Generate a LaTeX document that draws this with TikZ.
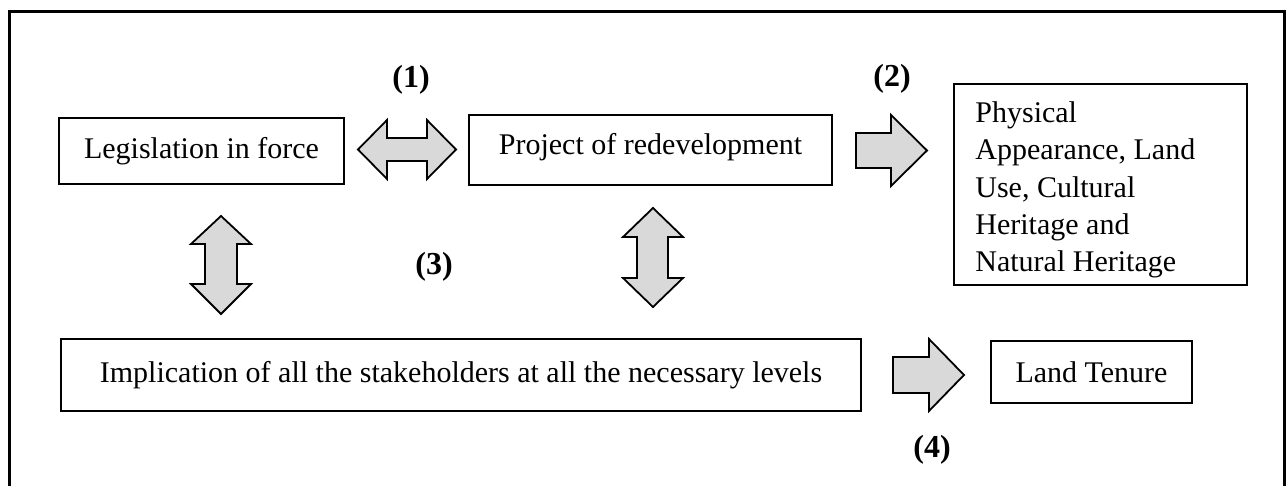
\documentclass[tikz,border=0pt]{standalone}
\usepackage{fontspec}
\setmainfont{Liberation Serif}
\begin{document}
\begin{tikzpicture}[x=0.5pt,y=-0.5pt,
  box/.style={draw, line width=0.9pt, inner sep=0pt, font=\fontsize{15}{18.6}\selectfont},
  blockarrow/.style={draw, line width=0.9pt, fill=gray!30, line join=miter},
  lbl/.style={font=\fontsize{16}{18}\selectfont\bfseries, inner sep=0pt},
  frame/.style={line width=1.5pt}]
\useasboundingbox (0,0) rectangle (1287,486);
% outer frame (bottom edge lies outside the picture)
\draw[frame] (9.5,500) -- (9.5,12) -- (1284.5,12) -- (1284.5,500);
% boxes
\node[box, minimum width=142.5pt, minimum height=33pt] (leg) at (201.5,151) {Legislation in force};
\node[box, minimum width=181.5pt, minimum height=35pt, text height=10.2pt, text depth=5.5pt] (proj) at (650.5,150) {Project of redevelopment};
\node[box, minimum width=146.5pt, minimum height=100.5pt] (phys) at (1100.5,184.5) {};
\node[font=\fontsize{15}{18.6}\selectfont, align=left, anchor=north west, inner sep=0pt] (phystext) at (975,101.5)
  {Physical\\Appearance, Land\\Use, Cultural\\Heritage and\\Natural Heritage};
\node[box, minimum width=400pt, minimum height=36pt] (impl) at (461,375) {Implication of all the stakeholders at all the necessary levels};
\node[box, minimum width=100.5pt, minimum height=31pt] (land) at (1091.5,372) {Land Tenure};
% block arrows
\draw[blockarrow] (358,149.5) -- (387,120) -- (387,138) -- (427,138) -- (427,120) -- (456,149.5)
  -- (427,179) -- (427,161) -- (387,161) -- (387,179) -- cycle;
\draw[blockarrow] (856,133) -- (891,133) -- (891,115) -- (927,150.5) -- (891,186) -- (891,168) -- (856,168) -- cycle;
\draw[blockarrow] (893,357) -- (929,357) -- (929,339) -- (964,375) -- (929,411) -- (929,393) -- (893,393) -- cycle;
\draw[blockarrow] (221,216) -- (251,244) -- (237,244) -- (237,284) -- (251,284) -- (221,314)
  -- (191,284) -- (205,284) -- (205,244) -- (191,244) -- cycle;
\draw[blockarrow] (653,208) -- (683,237) -- (668,237) -- (668,278) -- (683,278) -- (653,307)
  -- (623,278) -- (637,278) -- (637,237) -- (623,237) -- cycle;
% labels
\node[lbl] (l1) at (411,79.5) {(1)};
\node[lbl] (l2) at (892,79) {(2)};
\node[lbl] (l3) at (434,267) {(3)};
\node[lbl] (l4) at (932,450) {(4)};
\end{tikzpicture}
\end{document}
